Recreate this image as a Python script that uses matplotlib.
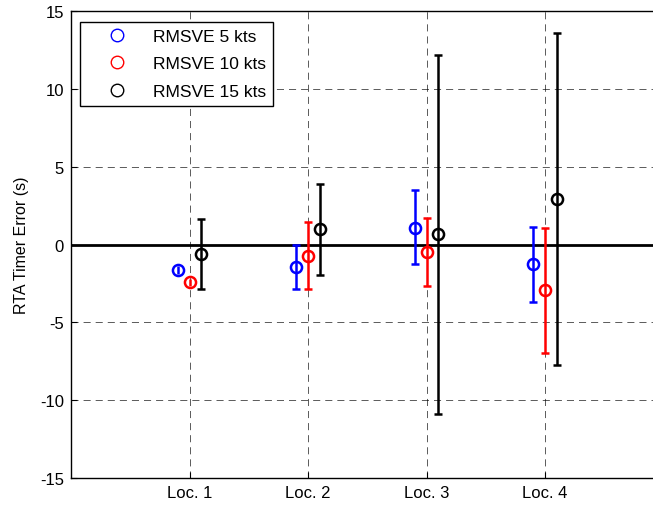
import numpy as np
import matplotlib.pyplot as plt
from matplotlib.lines import Line2D

plt.rcParams['font.family'] = ['Liberation Sans', 'DejaVu Sans']
plt.rcParams['axes.unicode_minus'] = False

# Données
locs = ["Loc. 1", "Loc. 2", "Loc. 3", "Loc. 4"]
series = ["RMSVE 5 kts", "RMSVE 10 kts", "RMSVE 15 kts"]
colors = ["blue", "red", "black"]

mean_5 = [-1.65, -1.47, 1.09, -1.27]
low_5 = [-1.90, -2.84, -1.27, -3.72]
high_5 = [-1.40, -0.06, 3.49, 1.11]

mean_10 = [-2.44, -0.75, -0.47, -2.90]
low_10 = [-2.69, -2.84, -2.65, -6.95]
high_10 = [-2.19, 1.45, 1.73, 1.03]

mean_15 = [-0.60, 0.98, 0.66, 2.95]
low_15 = [-2.85, -1.99, -10.90, -7.75]
high_15 = [1.67, 3.89, 12.20, 13.60]

means = [mean_5, mean_10, mean_15]
lows = [low_5, low_10, low_15]
highs = [high_5, high_10, high_15]
offsets = [-0.1, 0.0, 0.1]

fig = plt.figure(figsize=(6.53, 5.06), dpi=100)
# l'axe dépasse à droite : la figure d'origine est rognée
ax = fig.add_axes([71 / 653, 27 / 506, 592.5 / 653, 467 / 506])

x = np.arange(1, len(locs) + 1)
for m, lo, hi, off, c in zip(means, lows, highs, offsets, colors):
    m = np.array(m)
    yerr = [m - np.array(lo), np.array(hi) - m]
    small = (yerr[1] + yerr[0]) < 1
    # petites barres : pas de chapeau visible
    ax.errorbar((x + off)[~small], m[~small],
                yerr=[yerr[0][~small], yerr[1][~small]], fmt="o", color=c,
                mfc="none", mec=c, ms=8, mew=1.8, elinewidth=1.8, capsize=3,
                capthick=1.8, zorder=3)
    ax.errorbar((x + off)[small], m[small],
                yerr=[yerr[0][small], yerr[1][small]], fmt="o", color=c,
                mfc="none", mec=c, ms=8, mew=1.8, elinewidth=1.8, capsize=0,
                zorder=3)

ax.axhline(0, color="black", lw=2, zorder=2)

ax.set_xlim(0, 5)
ax.set_ylim(-15, 15)
ax.set_xticks(x)
ax.set_xticklabels(locs)
ax.set_yticks(np.arange(-15, 16, 5))
ax.tick_params(direction="in", length=4, labelsize=12, width=0.8, pad=5)
ax.set_ylabel("RTA Timer Error (s)", fontsize=11.5, labelpad=8)
ax.grid(True, linestyle=(0, (8.5, 6)), color="black", lw=0.6, alpha=0.75)
ax.set_axisbelow(True)
for s in ax.spines.values():
    s.set_linewidth(1.0)

handles = [Line2D([], [], marker="o", ls="none", mfc="none", mec=c, ms=9, mew=1)
           for c in colors]
leg = ax.legend(handles, series, loc="upper left",
                bbox_to_anchor=(80 / 653, 1 - 23 / 506),
                bbox_transform=fig.transFigure, fancybox=False, framealpha=1,
                edgecolor="black", fontsize=12.5, handlelength=3.5,
                handletextpad=0.3, borderpad=0.4, labelspacing=0.7,
                borderaxespad=0)
leg.get_frame().set_linewidth(1.0)

fig.savefig("out.png", dpi=100)
